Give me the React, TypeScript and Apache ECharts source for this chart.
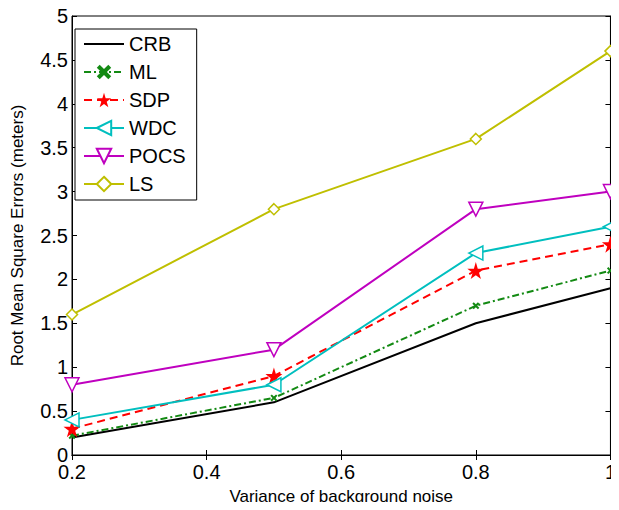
import React, { useEffect, useRef } from "react";
import * as echarts from "echarts";

const xValues = [0.2, 0.5, 0.8, 1];
const crb = [0.2, 0.6, 1.5, 1.9];
const ml = [0.22, 0.65, 1.7, 2.1];
const sdp = [0.3, 0.9, 2.1, 2.4];
const wdc = [0.4, 0.8, 2.3, 2.6];
const pocs = [0.8, 1.2, 2.8, 3.0];
const ls = [1.6, 2.8, 3.6, 4.6];
const seriesNames = ["CRB", "ML", "SDP", "WDC", "POCS", "LS"];

const STAR =
  "path://M50,0 L61,35 L98,35 L68,57 L79,91 L50,70 L21,91 L32,57 L2,35 L39,35 Z";
const CROSS =
  "path://M0,20 L20,0 L50,30 L80,0 L100,20 L70,50 L100,80 L80,100 L50,70 L20,100 L0,80 L30,50 Z";

const FONT = "'Liberation Sans', Arial, Helvetica, sans-serif";

export default function App() {
  const ref = useRef<HTMLDivElement>(null);
  useEffect(() => {
    const chart = echarts.init(ref.current!, null, { renderer: "svg" });
    const pair = (ys: number[]) => xValues.map((x, i) => [x, ys[i]]);
    const mk = (
      name: string,
      ys: number[],
      color: string,
      lineType: any,
      symbol: string,
      size: number,
      rotate: number,
      filled: boolean
    ) => ({
      name,
      type: "line",
      data: pair(ys),
      symbol,
      symbolSize: size,
      symbolRotate: rotate,
      showSymbol: symbol !== "none",
      lineStyle: { color, width: 2, type: lineType },
      itemStyle: filled
        ? { color, borderColor: color, borderWidth: 0 }
        : { color: "#ffffff", borderColor: color, borderWidth: 1.5 },
      z: 3,
    });
    chart.setOption({
      animation: false,
      backgroundColor: "#ffffff",
      textStyle: { fontFamily: FONT },
      grid: { left: 72, right: 2, top: 16, bottom: 50, show: true, borderColor: "#000", borderWidth: 1 },
      legend: {
        data: seriesNames.map((n) =>
          n === "CRB" ? { name: n, itemStyle: { opacity: 0 } } : { name: n }
        ),
        orient: "vertical",
        left: 75,
        top: 29,
        padding: [5, 11, 6, 8],
        itemGap: 8,
        itemWidth: 40,
        itemHeight: 18,
        backgroundColor: "#fff",
        borderColor: "#000",
        borderWidth: 1,
        borderRadius: 0,
        textStyle: { fontSize: 20, lineHeight: 20, color: "#000", fontFamily: FONT },
      },
      xAxis: [
        {
          type: "value",
          min: 0.2,
          max: 1,
          interval: 0.2,
          position: "bottom",
          name: "Variance of background noise",
          nameLocation: "middle",
          nameGap: 33,
          nameTextStyle: { fontSize: 17, color: "#000", fontFamily: FONT },
          axisLine: { show: true, lineStyle: { color: "#000", width: 1 } },
          axisTick: { inside: true, length: 5, lineStyle: { color: "#000" } },
          axisLabel: {
            fontSize: 20,
            lineHeight: 16,
            color: "#000",
            margin: 9,
            fontFamily: FONT,
            formatter: (v: number) => (Math.abs(v - 1) < 1e-9 ? "1" : v.toFixed(1)),
          },
          splitLine: { show: false },
        },
        {
          type: "value",
          min: 0.2,
          max: 1,
          interval: 0.2,
          position: "top",
          axisLine: { show: true, lineStyle: { color: "#000", width: 1 } },
          axisTick: { inside: true, length: 5, lineStyle: { color: "#000" } },
          axisLabel: { show: false },
          splitLine: { show: false },
        },
      ],
      yAxis: [
        {
          type: "value",
          min: 0,
          max: 5,
          interval: 0.5,
          position: "left",
          name: "Root Mean Square Errors (meters)",
          nameLocation: "middle",
          nameGap: 46,
          nameTextStyle: { fontSize: 17, color: "#000", fontFamily: FONT },
          axisLine: { show: true, lineStyle: { color: "#000", width: 1 } },
          axisTick: { inside: true, length: 5, lineStyle: { color: "#000" } },
          axisLabel: {
            fontSize: 20,
            lineHeight: 15,
            color: "#000",
            margin: 4,
            fontFamily: FONT,
            formatter: (v: number) => String(v),
          },
          splitLine: { show: false },
        },
        {
          type: "value",
          min: 0,
          max: 5,
          interval: 0.5,
          position: "right",
          axisLine: { show: true, lineStyle: { color: "#000", width: 1 } },
          axisTick: { inside: true, length: 5, lineStyle: { color: "#000" } },
          axisLabel: { show: false },
          splitLine: { show: false },
        },
      ],
      series: [
        mk("CRB", crb, "#000000", "solid", "none", 0, 0, true),
        mk("ML", ml, "#138a13", [7, 3, 2, 3], CROSS, 7, 0, true),
        mk("SDP", sdp, "#ff0000", [8, 5], STAR, 17, 0, true),
        mk("WDC", wdc, "#00bfbf", "solid", "triangle", 14, 90, false),
        mk("POCS", pocs, "#bf00bf", "solid", "triangle", 14, 180, false),
        mk("LS", ls, "#bfbf00", "solid", "diamond", 11, 0, false),
      ],
    });
    return () => chart.dispose();
  }, []);
  return <div ref={ref} style={{ width: 619, height: 510, margin: -8 }} />;
}
